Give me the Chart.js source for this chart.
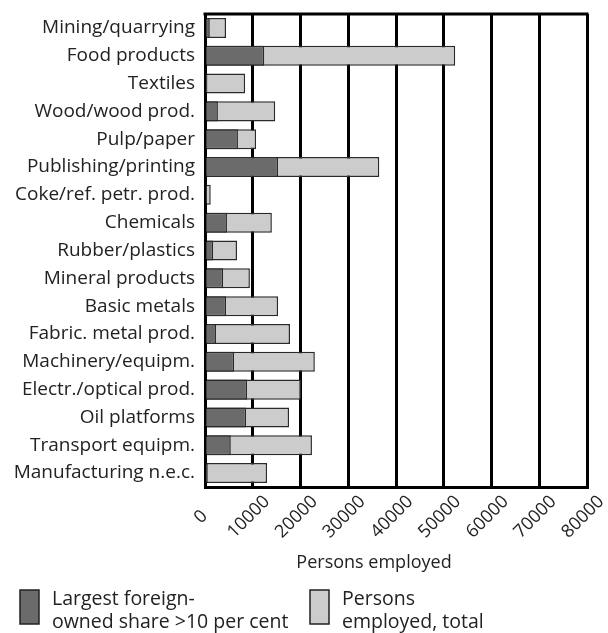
<!DOCTYPE html>
<html>
<head>
<meta charset="utf-8">
<script src="https://cdn.jsdelivr.net/npm/chart.js@4/dist/chart.umd.min.js"></script>
<style>
  html, body { margin: 0; padding: 0; background: #fff; }
  #wrap { width: 608px; height: 633px; }
</style>
</head>
<body>
<div id="wrap"><canvas id="chart" width="608" height="633"></canvas></div>
<script>
const industries = [
  'Mining/quarrying', 'Food products', 'Textiles', 'Wood/wood prod.', 'Pulp/paper',
  'Publishing/printing', 'Coke/ref. petr. prod.', 'Chemicals', 'Rubber/plastics',
  'Mineral products', 'Basic metals', 'Fabric. metal prod.', 'Machinery/equipm.',
  'Electr./optical prod.', 'Oil platforms', 'Transport equipm.', 'Manufacturing n.e.c.'
];
const foreignOwned = [1000, 12400, 500, 2700, 6900, 15300, 300, 4600, 1700, 3800, 4400, 2300, 6100, 8800, 8600, 5400, 600];
const totalEmployed = [4400, 52400, 8400, 14700, 10700, 36500, 1200, 14000, 6700, 9400, 15300, 17800, 23000, 20100, 17600, 22400, 13000];
const axisTitle = 'Persons employed';
const legendLabels = [
  ['Largest foreign-', 'owned share >10 per cent'],
  ['Persons', 'employed, total']
];

const FONT = '"Open Sans", "DejaVu Sans", sans-serif';

// top frame line, centred 45° tick labels, axis title and the two-line legend
const extras = {
  id: 'extras',
  afterDraw(chart) {
    const ctx = chart.ctx;
    const a = chart.chartArea;
    const xs = chart.scales.x;
    ctx.save();
    ctx.strokeStyle = '#000';
    ctx.lineWidth = 3;
    ctx.beginPath();
    ctx.moveTo(a.left - 1.5, a.top);
    ctx.lineTo(a.right + 1.5, a.top);
    ctx.stroke();

    ctx.fillStyle = '#222';
    ctx.font = '18px ' + FONT;
    ctx.textAlign = 'center';
    ctx.textBaseline = 'middle';
    xs.ticks.forEach(t => {
      ctx.save();
      ctx.translate(xs.getPixelForValue(t.value) - 4, a.bottom + 30);
      ctx.rotate(-Math.PI / 4);
      ctx.fillText(String(t.value), 0, 0);
      ctx.restore();
    });

    ctx.textBaseline = 'alphabetic';
    ctx.fillText(axisTitle, (a.left + a.right) / 2 - 22, 568);

    const sets = chart.data.datasets;
    const lx = [20, 310];
    ctx.textAlign = 'left';
    ctx.font = '19.5px ' + FONT;
    sets.forEach((ds, i) => {
      ctx.fillStyle = ds.backgroundColor;
      ctx.strokeStyle = '#222';
      ctx.lineWidth = 1.5;
      ctx.fillRect(lx[i], 590, 19, 34);
      ctx.strokeRect(lx[i], 590, 19, 34);
      ctx.fillStyle = '#222';
      legendLabels[i].forEach((t, j) => ctx.fillText(t, lx[i] + 32, 605 + j * 23));
    });
    ctx.restore();
  }
};

new Chart(document.getElementById('chart'), {
  type: 'bar',
  data: {
    labels: industries,
    datasets: [
      { label: legendLabels[0].join(' '), data: foreignOwned,
        backgroundColor: '#6b6b6b', borderColor: '#2a2a2a', borderWidth: 1.5 },
      { label: legendLabels[1].join(' '), data: totalEmployed,
        backgroundColor: '#cccccc', borderColor: '#2a2a2a', borderWidth: 1.5 }
    ]
  },
  options: {
    indexAxis: 'y',
    responsive: false,
    animation: false,
    layout: { padding: { top: 14, right: 21, bottom: 0, left: 0 } },
    datasets: { bar: { barPercentage: 0.72, categoryPercentage: 1 } },
    plugins: { legend: { display: false }, tooltip: { enabled: false } },
    scales: {
      y: {
        stacked: true,
        afterFit(s) { s.width = 205; s.paddingTop = 0; s.paddingBottom = 0; },
        grid: { display: false, drawTicks: false },
        border: { display: true, color: '#000', width: 3 },
        ticks: { color: '#222', padding: 10, font: { family: FONT, size: 19 } }
      },
      x: {
        min: 0, max: 80000,
        afterFit(s) { s.height = 146; s.paddingLeft = 0; s.paddingRight = 0; },
        grid: { color: '#000', lineWidth: 3, drawTicks: false },
        border: { display: true, color: '#000', width: 3 },
        ticks: { stepSize: 10000, display: false }
      }
    }
  },
  plugins: [extras]
});
</script>
</body>
</html>
